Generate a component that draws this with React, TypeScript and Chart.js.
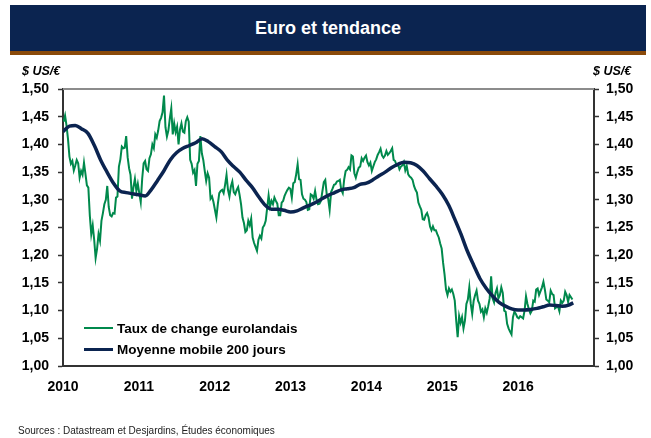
import React, { useEffect, useRef } from "react";
import { Chart, registerables } from "chart.js";

Chart.register(...registerables);

// ---- Data -------------------------------------------------------------
// Weekly EUR/USD exchange rate, first week starting 2010-01-04
const FIRST_WEEK = "2010-01-04";
const rate2010 = [
  1.441, 1.452, 1.434, 1.41,
  1.378, 1.365, 1.37, 1.353,
  1.362, 1.372, 1.366, 1.34, 1.352,
  1.345, 1.367, 1.347, 1.326,
  1.322, 1.272, 1.238, 1.254, 1.228,
  1.195, 1.212, 1.238, 1.226,
  1.262, 1.276, 1.292, 1.3,
  1.325, 1.287, 1.272, 1.27, 1.276,
  1.275, 1.304, 1.306, 1.36,
  1.373, 1.396, 1.393, 1.394,
  1.415, 1.377, 1.357, 1.345, 1.302,
  1.323, 1.338, 1.316, 1.329,
];
const rate2011 = [
  1.312, 1.296, 1.338, 1.366, 1.37,
  1.355, 1.352, 1.375, 1.382,
  1.4, 1.393, 1.418, 1.412,
  1.425, 1.442, 1.448, 1.458,
  1.488, 1.431, 1.414, 1.425, 1.447,
  1.465, 1.418, 1.438, 1.422,
  1.432, 1.4, 1.427, 1.438,
  1.423, 1.421, 1.442, 1.449, 1.441,
  1.372, 1.365, 1.349, 1.354,
  1.325, 1.365, 1.37, 1.415, 1.384,
  1.372, 1.352, 1.334, 1.348,
  1.34, 1.302, 1.306, 1.296,
];
const rate2012 = [
  1.282, 1.268, 1.292, 1.312, 1.316,
  1.318, 1.312, 1.327, 1.345,
  1.318, 1.306, 1.324, 1.333,
  1.314, 1.31, 1.318, 1.323, 1.309,
  1.292, 1.268, 1.258, 1.242,
  1.245, 1.262, 1.254, 1.266,
  1.232, 1.222, 1.215, 1.208, 1.228,
  1.235, 1.23, 1.25, 1.254,
  1.262, 1.285, 1.308, 1.288,
  1.298, 1.292, 1.304, 1.298, 1.293,
  1.272, 1.272, 1.295, 1.298,
  1.307, 1.313, 1.318, 1.322, 1.32,
];
const rate2013 = [
  1.304, 1.33, 1.332, 1.346,
  1.364, 1.337, 1.336, 1.31,
  1.302, 1.3, 1.296, 1.282,
  1.283, 1.31, 1.308, 1.302, 1.316,
  1.3, 1.292, 1.293, 1.298,
  1.315, 1.332, 1.336, 1.31,
  1.302, 1.282, 1.314, 1.32, 1.327,
  1.328, 1.333, 1.334, 1.336,
  1.318, 1.312, 1.337, 1.352, 1.354,
  1.359, 1.355, 1.38, 1.378,
  1.348, 1.34, 1.35, 1.358,
  1.36, 1.375, 1.37, 1.376, 1.38,
];
const rate2014 = [
  1.368, 1.362, 1.367, 1.352,
  1.36, 1.368, 1.373, 1.381,
  1.386, 1.392, 1.38, 1.376, 1.38,
  1.388, 1.381, 1.384, 1.388,
  1.393, 1.372, 1.37, 1.362,
  1.364, 1.355, 1.36, 1.362, 1.368,
  1.353, 1.361, 1.346, 1.342,
  1.34, 1.336, 1.325, 1.318,
  1.313, 1.295, 1.288, 1.282, 1.265,
  1.264, 1.272, 1.276, 1.268,
  1.252, 1.245, 1.252, 1.245,
  1.245, 1.238, 1.232, 1.221, 1.212,
];
const rate2015 = [
  1.186, 1.165, 1.138, 1.128,
  1.14, 1.134, 1.138, 1.13,
  1.118, 1.082, 1.052, 1.09, 1.078,
  1.088, 1.068, 1.082, 1.112,
  1.12, 1.142, 1.112, 1.094,
  1.118, 1.128, 1.136, 1.118, 1.112,
  1.098, 1.102, 1.088, 1.104,
  1.096, 1.108, 1.122, 1.162, 1.122,
  1.115, 1.132, 1.14, 1.122,
  1.128, 1.142, 1.132, 1.1,
  1.098, 1.076, 1.068, 1.062, 1.057,
  1.088, 1.098, 1.094, 1.088,
];
const rate2016 = [
  1.086, 1.09, 1.088, 1.086,
  1.1, 1.126, 1.112, 1.102, 1.095,
  1.1, 1.118, 1.116, 1.138,
  1.14, 1.128, 1.135, 1.142,
  1.152, 1.138, 1.12, 1.118, 1.115,
  1.136, 1.13, 1.128, 1.104,
  1.106, 1.108, 1.099, 1.118,
  1.114, 1.118, 1.134, 1.128, 1.116,
  1.128, 1.124, 1.12,
];

// 200-day moving average, first day of each month
const ma2010 = [1.423, 1.433, 1.434, 1.428, 1.42, 1.398, 1.372, 1.35, 1.33, 1.316, 1.313, 1.311];
const ma2011 = [1.309, 1.307, 1.318, 1.335, 1.352, 1.372, 1.385, 1.393, 1.398, 1.403, 1.41, 1.405];
const ma2012 = [1.396, 1.387, 1.372, 1.36, 1.35, 1.335, 1.322, 1.305, 1.29, 1.283, 1.283, 1.281];
const ma2013 = [1.278, 1.28, 1.285, 1.29, 1.295, 1.302, 1.308, 1.313, 1.318, 1.32, 1.322, 1.328];
const ma2014 = [1.33, 1.336, 1.343, 1.35, 1.358, 1.364, 1.368, 1.367, 1.362, 1.352, 1.338, 1.325];
const ma2015 = [1.31, 1.29, 1.266, 1.238, 1.208, 1.182, 1.158, 1.14, 1.126, 1.115, 1.108, 1.103];
const ma2016 = [1.101, 1.101, 1.102, 1.104, 1.107, 1.11, 1.109, 1.108, 1.11];
const MA_LAST_DATE = "2016-09-23";
const MA_LAST_VALUE = 1.114;

const yearLabels = [2010, 2011, 2012, 2013, 2014, 2015, 2016];
const X_MIN = 2010;
const X_MAX = 2017;
const Y_MIN = 1.0;
const Y_MAX = 1.5;
const Y_STEP = 0.05;

const TITLE = "Euro et tendance";
const UNIT = "$ US/€";
const LEGEND_RATE = "Taux de change eurolandais";
const LEGEND_MA = "Moyenne mobile 200 jours";
const SOURCE = "Sources : Datastream et Desjardins, Études économiques";

// ---- Helpers ----------------------------------------------------------
const DAY = 86400000;
function toYear(t: number): number {
  const d = new Date(t);
  const y = d.getUTCFullYear();
  const s = Date.UTC(y, 0, 1);
  const e = Date.UTC(y + 1, 0, 1);
  return y + (t - s) / (e - s);
}

function ratePoints() {
  const all = [...rate2010, ...rate2011, ...rate2012, ...rate2013, ...rate2014, ...rate2015, ...rate2016];
  const start = Date.parse(FIRST_WEEK + "T00:00:00Z");
  return all.map((v, i) => ({ x: toYear(start + i * 7 * DAY), y: v }));
}

function maPoints() {
  const years = [ma2010, ma2011, ma2012, ma2013, ma2014, ma2015, ma2016];
  const pts: { x: number; y: number }[] = [];
  years.forEach((arr, yi) => {
    arr.forEach((v, m) => {
      pts.push({ x: toYear(Date.UTC(2010 + yi, m, 1)), y: v });
    });
  });
  pts.push({ x: toYear(Date.parse(MA_LAST_DATE + "T00:00:00Z")), y: MA_LAST_VALUE });
  return pts;
}

const FONT = "'Liberation Sans', Arial, Helvetica, sans-serif";
const GREEN = "#00894C";
const NAVY = "#0B2450";
const AXIS = "#333333";

const framePlugin = {
  id: "frameTop",
  beforeDatasetsDraw(chart: any) {
    const { ctx, chartArea } = chart;
    ctx.save();
    ctx.strokeStyle = "#8c8c8c";
    ctx.lineWidth = 2;
    ctx.beginPath();
    ctx.moveTo(chartArea.left, chartArea.top);
    ctx.lineTo(chartArea.right, chartArea.top);
    ctx.stroke();
    ctx.restore();
  },
};

export default function App() {
  const ref = useRef<HTMLCanvasElement | null>(null);

  useEffect(() => {
    if (!ref.current) return;
    const yTick = {
      min: Y_MIN,
      max: Y_MAX,
      ticks: {
        stepSize: Y_STEP,
        color: "#000",
        font: { family: FONT, size: 14, weight: "bold" as const },
        callback: (v: any) => Number(v).toFixed(2).replace(".", ","),
      },
      grid: { drawOnChartArea: false, drawTicks: true, tickLength: 5, tickColor: AXIS, tickWidth: 1.5 },
      border: { color: AXIS, width: 2 },
    };
    const chart = new Chart(ref.current, {
      type: "line",
      data: {
        datasets: [
          {
            label: LEGEND_RATE,
            data: ratePoints(),
            borderColor: GREEN,
            borderWidth: 2,
            pointRadius: 0,
            tension: 0,
            order: 1,
            yAxisID: "y",
          },
          {
            label: LEGEND_MA,
            data: maPoints(),
            borderColor: NAVY,
            borderWidth: 3.5,
            pointRadius: 0,
            cubicInterpolationMode: "monotone",
            order: 0,
            yAxisID: "y",
          },
        ],
      },
      options: {
        animation: false,
        responsive: false,
        layout: { padding: { top: 89, bottom: 42, left: 0, right: 0 } },
        plugins: { legend: { display: false }, tooltip: { enabled: false } },
        scales: {
          x: {
            type: "linear",
            min: X_MIN,
            max: X_MAX,
            ticks: {
              stepSize: 1,
              autoSkip: false,
              maxRotation: 0,
              padding: 13,
              color: "#000",
              font: { family: FONT, size: 14, weight: "bold" },
              callback: (v: any) => (yearLabels.includes(Number(v)) ? String(v) : ""),
            },
            grid: { drawOnChartArea: false, drawTicks: false },
            border: { color: AXIS, width: 2 },
            afterFit: (s: any) => {
              s.height = 30;
            },
          },
          y: {
            ...yTick,
            position: "left",
            ticks: { ...yTick.ticks, padding: 9 },
            afterFit: (s: any) => {
              s.width = 63;
            },
          },
          y2: {
            ...yTick,
            position: "right",
            ticks: { ...yTick.ticks, padding: 7 },
            afterFit: (s: any) => {
              s.width = 57;
            },
          },
        },
      } as any,
      plugins: [framePlugin],
    });
    return () => chart.destroy();
  }, []);

  const legendRow = (color: string, w: number, text: string, top: number) => (
    <div style={{ position: "absolute", left: 84, top, height: 20, display: "flex", alignItems: "center" }}>
      <div style={{ width: 29, height: w, background: color, marginRight: 4 }} />
      <span style={{ fontFamily: FONT, fontWeight: "bold", fontSize: 13.5, color: "#000", whiteSpace: "nowrap" }}>{text}</span>
    </div>
  );

  return (
    <div style={{ position: "fixed", left: 0, top: 0, width: 651, height: 438, background: "#fff", overflow: "hidden" }}>
      <div
        style={{
          position: "absolute",
          left: 10,
          top: 5,
          width: 636,
          height: 46,
          background: NAVY,
          color: "#fff",
          fontFamily: FONT,
          fontWeight: "bold",
          fontSize: 18,
          display: "flex",
          alignItems: "center",
          justifyContent: "center",
        }}
      >
        {TITLE}
      </div>
      <div style={{ position: "absolute", left: 10, top: 51, width: 636, height: 4, background: "#8A4A0A" }} />
      <canvas ref={ref} width={651} height={438} style={{ position: "absolute", left: 0, top: 0, width: 651, height: 438 }} />
      <div style={{ position: "absolute", left: 22, top: 64, fontFamily: FONT, fontWeight: "bold", fontStyle: "italic", fontSize: 12.5, color: "#000" }}>{UNIT}</div>
      <div style={{ position: "absolute", left: 593, top: 64, fontFamily: FONT, fontWeight: "bold", fontStyle: "italic", fontSize: 12.5, color: "#000" }}>{UNIT}</div>
      {legendRow(GREEN, 2, LEGEND_RATE, 318)}
      {legendRow(NAVY, 3, LEGEND_MA, 339)}
      <div style={{ position: "absolute", left: 18, top: 425, fontFamily: FONT, fontSize: 10, color: "#222", whiteSpace: "nowrap" }}>{SOURCE}</div>
    </div>
  );
}
